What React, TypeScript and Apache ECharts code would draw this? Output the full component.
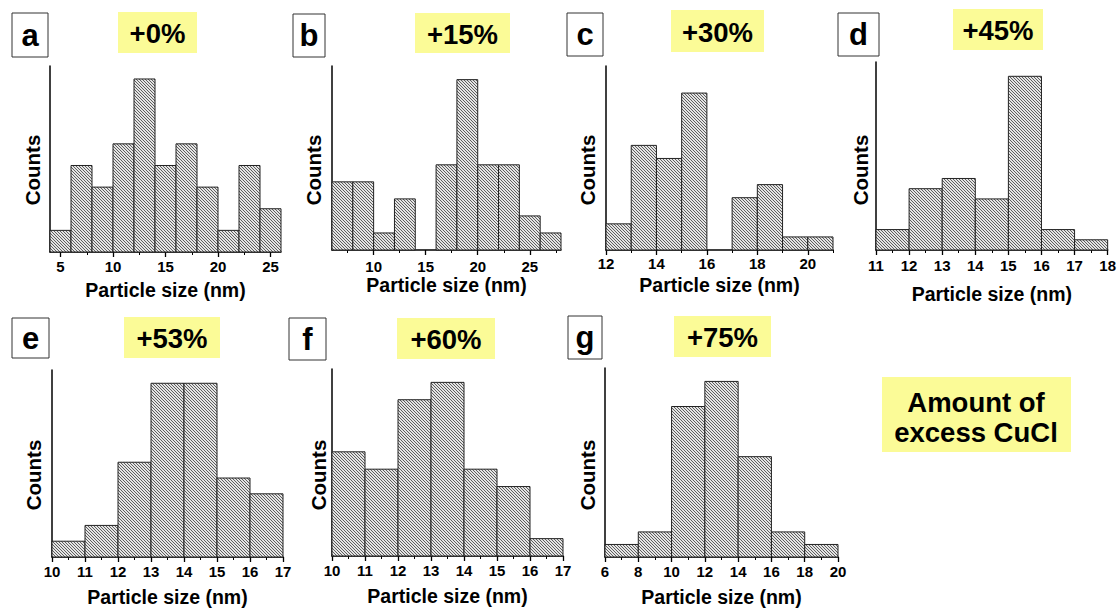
import React, { useEffect, useRef } from "react";
import * as echarts from "echarts";

// Particle-size histograms for increasing amounts of excess CuCl
const panelLetters = ["a", "b", "c", "d", "e", "f", "g"];
const excessLabels = ["+0%", "+15%", "+30%", "+45%", "+53%", "+60%", "+75%"];

// bin layout (nm)
const binStarts = [4, 6, 12, 11, 10, 10, 6];
const binWidths = [2, 2, 1, 1, 1, 1, 2];

// counts per bin
const countsA = [1, 4, 3, 5, 8, 4, 5, 3, 1, 4, 2];
const countsB = [4, 4, 1, 3, 0, 5, 10, 5, 5, 2, 1];
const countsC = [2, 8, 7, 12, 0, 4, 5, 1, 1];
const countsD = [2, 6, 7, 5, 17, 2, 1];
const countsE = [1, 2, 6, 11, 11, 5, 4];
const countsF = [6, 5, 9, 10, 5, 4, 1];
const countsG = [1, 2, 12, 14, 8, 2, 1];
const allCounts = [countsA, countsB, countsC, countsD, countsE, countsF, countsG];

// axis extents
const xMins = [4, 6, 12, 11, 10, 10, 6];
const xMaxs = [26, 28, 21, 18, 17, 17, 20];
const yMaxs = [8.6, 10.8, 14.07, 18.4, 11.84, 10.77, 15.07];

// x-axis tick values
const majorTicks = [
  [5, 10, 15, 20, 25],
  [10, 15, 20, 25],
  [12, 14, 16, 18, 20],
  [11, 12, 13, 14, 15, 16, 17, 18],
  [10, 11, 12, 13, 14, 15, 16, 17],
  [10, 11, 12, 13, 14, 15, 16, 17],
  [6, 8, 10, 12, 14, 16, 18, 20],
];
const minorTicks = [
  [7.5, 12.5, 17.5, 22.5],
  [7.5, 12.5, 17.5, 22.5, 27.5],
  [13, 15, 17, 19, 21],
  [11.5, 12.5, 13.5, 14.5, 15.5, 16.5, 17.5],
  [10.5, 11.5, 12.5, 13.5, 14.5, 15.5, 16.5],
  [10.5, 11.5, 12.5, 13.5, 14.5, 15.5, 16.5],
  [7, 9, 11, 13, 15, 17, 19],
];

const xTitle = "Particle size (nm)";
const yTitle = "Counts";
const noteText = "Amount of\nexcess CuCl";

// panel geometry
const grids = [
  { left: 50, top: 66, width: 231, height: 186 },
  { left: 332, top: 66, width: 229, height: 184 },
  { left: 606, top: 66, width: 227, height: 184 },
  { left: 876, top: 62, width: 233, height: 188 },
  { left: 52, top: 370, width: 231, height: 187 },
  { left: 332, top: 369, width: 231, height: 187 },
  { left: 605, top: 368, width: 233, height: 189 },
];
const nameGaps = [28, 22, 25, 34, 30, 30, 30];
const labelMargins = [7, 9, 6, 8, 7, 7, 7];
const letterBoxes = [
  [12, 13, 36, 44],
  [293, 14, 32, 43],
  [567, 13, 36, 43],
  [838, 13, 41, 43],
  [12, 318, 37, 40],
  [289, 318, 37, 42],
  [568, 316, 34, 43],
];
const tagBoxes = [
  [118, 12, 79, 41],
  [415, 13, 95, 40],
  [671, 10, 93, 42],
  [953, 9, 90, 41],
  [124, 317, 96, 41],
  [397, 318, 98, 41],
  [674, 316, 97, 41],
];
const countsPos = [
  [32, 170],
  [313, 170],
  [587, 170],
  [860, 170],
  [33, 475],
  [318, 475],
  [587, 475],
];

const FONT = "'Liberation Sans', Arial, Helvetica, sans-serif";
const YELLOW = "#fbfb97";

// fine diagonal hatching used to fill the histogram bars
function makeHatch(): HTMLCanvasElement {
  const c = document.createElement("canvas");
  c.width = 3;
  c.height = 3;
  const ctx = c.getContext("2d")!;
  ctx.fillStyle = "#e4e4e4";
  ctx.fillRect(0, 0, 3, 3);
  ctx.strokeStyle = "#4e4e4e";
  ctx.lineWidth = 0.9;
  ctx.beginPath();
  ctx.moveTo(-1, -1);
  ctx.lineTo(4, 4);
  ctx.moveTo(-1, 2);
  ctx.lineTo(1, 4);
  ctx.moveTo(2, -1);
  ctx.lineTo(4, 1);
  ctx.stroke();
  return c;
}

export default function App() {
  const ref = useRef<HTMLDivElement>(null);

  useEffect(() => {
    if (!ref.current) return;
    const chart = echarts.init(ref.current, null, { renderer: "svg" });
    const hatch = { image: makeHatch(), repeat: "repeat", imageWidth: 3, imageHeight: 3 };

    const xAxis: any[] = [];
    const yAxis: any[] = [];
    const series: any[] = [];

    grids.forEach((g, i) => {
      xAxis.push({
        type: "value",
        gridIndex: i,
        position: "bottom",
        min: xMins[i],
        max: xMaxs[i],
        name: xTitle,
        nameLocation: "middle",
        nameGap: nameGaps[i],
        nameTextStyle: { fontFamily: FONT, fontWeight: "bold", fontSize: 19.5, color: "#000" },
        axisLine: { show: true, onZero: false, lineStyle: { color: "#000", width: 1.5 } },
        axisTick: { show: true, length: 5, customValues: majorTicks[i], lineStyle: { color: "#000", width: 1.3 } },
        axisLabel: {
          customValues: majorTicks[i],
          margin: labelMargins[i],
          fontFamily: FONT,
          fontWeight: "bold",
          fontSize: 15,
          color: "#000",
        },
        splitLine: { show: false },
      });
      xAxis.push({
        type: "value",
        gridIndex: i,
        position: "bottom",
        min: xMins[i],
        max: xMaxs[i],
        axisLine: { show: false, onZero: false },
        axisTick: { show: true, length: 3, customValues: minorTicks[i], lineStyle: { color: "#000", width: 1 } },
        axisLabel: { show: false },
        splitLine: { show: false },
      });
      yAxis.push({
        type: "value",
        gridIndex: i,
        min: 0,
        max: yMaxs[i],
        axisLine: { show: true, lineStyle: { color: "#000", width: 1.5 } },
        axisTick: { show: false },
        axisLabel: { show: false },
        splitLine: { show: false },
      });
      const data = allCounts[i].map((c, k) => [
        binStarts[i] + k * binWidths[i],
        binStarts[i] + (k + 1) * binWidths[i],
        c,
      ]);
      series.push({
        type: "custom",
        xAxisIndex: 2 * i,
        yAxisIndex: i,
        data,
        encode: { x: [0, 1], y: 2 },
        renderItem: (params: any, api: any) => {
          const c = api.value(2);
          if (!c) return null;
          const p0 = api.coord([api.value(0), c]);
          const p1 = api.coord([api.value(1), 0]);
          return {
            type: "rect",
            shape: { x: p0[0], y: p0[1], width: p1[0] - p0[0], height: p1[1] - p0[1] },
            style: { fill: hatch, stroke: "#222", lineWidth: 1 },
          };
        },
      });
    });

    const graphic: any[] = [];
    panelLetters.forEach((ch, i) => {
      const [x, y, w, h] = letterBoxes[i];
      graphic.push({
        type: "rect",
        shape: { x, y, width: w, height: h },
        style: { fill: "#fff", stroke: "#333", lineWidth: 1 },
      });
      graphic.push({
        type: "text",
        x: x + w / 2,
        y: y + h / 2,
        style: { text: ch, fontFamily: FONT, fontWeight: "bold", fontSize: 31, fill: "#000", align: "center", verticalAlign: "middle" },
      });
      const [tx, ty, tw, th] = tagBoxes[i];
      graphic.push({ type: "rect", shape: { x: tx, y: ty, width: tw, height: th }, style: { fill: YELLOW } });
      graphic.push({
        type: "text",
        x: tx + tw / 2,
        y: ty + th / 2 + 1,
        style: { text: excessLabels[i], fontFamily: FONT, fontWeight: "bold", fontSize: 27.5, fill: "#000", align: "center", verticalAlign: "middle" },
      });
      const [cx, cy] = countsPos[i];
      graphic.push({
        type: "text",
        x: cx,
        y: cy,
        rotation: Math.PI / 2,
        style: { text: yTitle, fontFamily: FONT, fontWeight: "bold", fontSize: 20.5, fill: "#000", align: "center", verticalAlign: "middle" },
      });
    });
    graphic.push({ type: "rect", shape: { x: 882, y: 377, width: 189, height: 75 }, style: { fill: YELLOW } });
    graphic.push({
      type: "text",
      x: 976,
      y: 417,
      style: { text: noteText, fontFamily: FONT, fontWeight: "bold", fontSize: 27.5, lineHeight: 30, fill: "#000", align: "center", verticalAlign: "middle" },
    });

    chart.setOption({
      animation: false,
      backgroundColor: "#fff",
      grid: grids.map((g) => ({ ...g, containLabel: false })),
      xAxis,
      yAxis,
      series,
      graphic,
    });
    return () => chart.dispose();
  }, []);

  return <div ref={ref} style={{ position: "fixed", left: 0, top: 0, width: 1119, height: 608 }} />;
}
